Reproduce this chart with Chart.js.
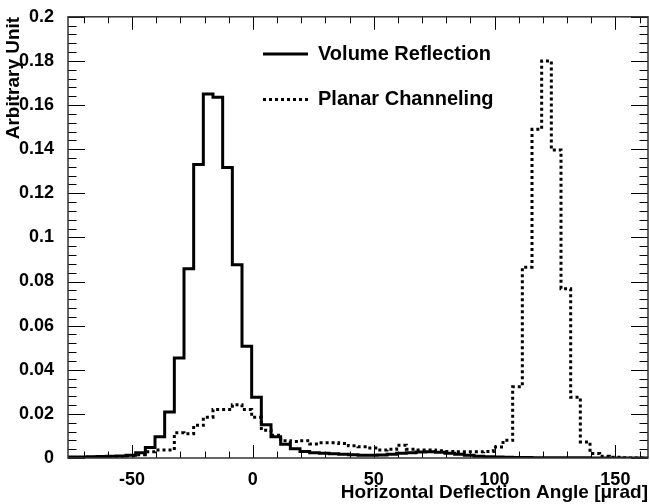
<!DOCTYPE html>
<html>
<head>
<meta charset="utf-8">
<script src="https://cdn.jsdelivr.net/npm/chart.js@4.4.1/dist/chart.umd.min.js"></script>
<style>
  html, body { margin: 0; padding: 0; background: #fff; }
  #wrap { width: 650px; height: 504px; }
</style>
</head>
<body>
<div id="wrap"><canvas id="myChart" width="650" height="504"></canvas></div>
<script>
// 60 bins, 4 urad wide, first one starts at -76.5
var binStart = -76.5
var binWidth = 4

var seriesNames = ['Volume Reflection', 'Planar Channeling']

// bin contents, left to right
var volumeReflection = [
    0.0005, 0.0005, 0.0006, 0.0007, 0.0008, 0.0009, 0.0013, 0.0024, 0.0048, 0.0096,
    0.0208, 0.0453, 0.0858, 0.1330, 0.1650, 0.1635, 0.1317, 0.0876, 0.0507, 0.0275,
    0.0151, 0.0096, 0.0062, 0.0042, 0.0029, 0.0024, 0.0021, 0.0019, 0.0017, 0.0015,
    0.0013, 0.0013, 0.0014, 0.0017, 0.0021, 0.0024, 0.0027, 0.0028, 0.0026, 0.0022,
    0.0017, 0.0012, 0.0008, 0.0006, 0.0004, 0.0003, 0.0002, 0.0002, 0.0001, 0.0001,
    0.0001, 0.0001, 0.0001, 0.0001, 0, 0, 0, 0, 0, 0
]
var planarChanneling = [
    0.0002, 0.0002, 0.0003, 0.0004, 0.0005, 0.0007, 0.0010, 0.0015, 0.0028, 0.0036,
    0.0036, 0.0114, 0.0110, 0.0148, 0.0185, 0.0220, 0.0220, 0.0241, 0.0220, 0.0185,
    0.0126, 0.0103, 0.0078, 0.0075, 0.0078, 0.0063, 0.0069, 0.0069, 0.0066, 0.0055,
    0.0051, 0.0045, 0.0036, 0.0040, 0.0058, 0.0040, 0.0036, 0.0036, 0.0033, 0.0030,
    0.0028, 0.0028, 0.0028, 0.0030, 0.0050, 0.0080, 0.0323, 0.0865, 0.1490, 0.1800,
    0.1396, 0.0767, 0.0275, 0.0073, 0.0020, 0.0008, 0.0003, 0.0001, 0, 0
]

var xTickLabels = [-50, 0, 50, 100, 150]
var yTickLabels = [0, 0.02, 0.04, 0.06, 0.08, 0.1, 0.12, 0.14, 0.16, 0.18, 0.2]

// bin contents -> points on the left bin edges, plus the closing right edge
function toSteps(values) {
    var pts = []
    for (var i = 0; i < values.length; i++) {
        pts.push({ x: binStart + i * binWidth, y: values[i] })
    }
    pts.push({ x: binStart + values.length * binWidth, y: values[values.length - 1] })
    return pts
}

var family = "'Liberation Sans', Arial, Helvetica, sans-serif"
var tickFont = { family: family, weight: 'bold', size: 18 }
var titleFont = { family: family, weight: 'bold', size: 19 }

// ROOT-like frame with inward ticks on all four sides, plus the legend
var frameTicks = {
    id: 'frameTicks',
    afterDatasetsDraw(chart) {
        var ctx = chart.ctx, a = chart.chartArea
        var sx = chart.scales.x, sy = chart.scales.y
        ctx.save()
        ctx.strokeStyle = '#000'
        ctx.lineWidth = 1
        ctx.beginPath()
        for (var v = -70; v <= 160; v += 10) {
            var px = Math.round(sx.getPixelForValue(v)) + 0.5
            var len = (v % 50 === 0) ? 13 : 6.5
            ctx.moveTo(px, a.bottom); ctx.lineTo(px, a.bottom - len)
            ctx.moveTo(px, a.top); ctx.lineTo(px, a.top + len)
        }
        for (var i = 0; i <= 50; i++) {
            var py = Math.round(sy.getPixelForValue(i * 0.004)) + 0.5
            var len2 = (i % 5 === 0) ? 17 : 8.5
            ctx.moveTo(a.left, py); ctx.lineTo(a.left + len2, py)
            ctx.moveTo(a.right, py); ctx.lineTo(a.right - len2, py)
        }
        ctx.stroke()
        ctx.strokeStyle = '#333'
        ctx.lineWidth = 1.5
        ctx.strokeRect(a.left, a.top, a.right - a.left, a.bottom - a.top)
        ctx.restore()
    },
    afterDraw(chart) {
        var ctx = chart.ctx
        var rowY = [54, 99.5]
        ctx.save()
        chart.data.datasets.forEach(function (ds, i) {
            ctx.beginPath()
            ctx.strokeStyle = ds.borderColor
            ctx.lineWidth = ds.borderWidth
            ctx.setLineDash(ds.borderDash || [])
            ctx.moveTo(263, rowY[i])
            ctx.lineTo(308, rowY[i])
            ctx.stroke()
            ctx.setLineDash([])
            ctx.fillStyle = '#000'
            ctx.font = 'bold 20px ' + family
            ctx.textBaseline = 'middle'
            ctx.textAlign = 'left'
            ctx.fillText(ds.label, 318, rowY[i])
        })
        ctx.restore()
    }
}

const ctx = document.getElementById('myChart')
const myChart = new Chart(ctx, {
    type: 'line',
    data: {
        datasets: [{
            label: seriesNames[0],
            data: toSteps(volumeReflection),
            stepped: 'before',
            borderColor: '#000',
            borderWidth: 3,
            borderJoinStyle: 'miter',
            pointRadius: 0,
            fill: false
        }, {
            label: seriesNames[1],
            data: toSteps(planarChanneling),
            stepped: 'before',
            borderColor: '#000',
            borderWidth: 3,
            borderDash: [3, 3],
            borderJoinStyle: 'miter',
            pointRadius: 0,
            fill: false
        }]
    },
    options: {
        responsive: false,
        animation: false,
        layout: { padding: { top: 12, right: 2, left: 0, bottom: 0 } },
        plugins: {
            legend: { display: false },
            tooltip: { enabled: false }
        },
        scales: {
            x: {
                type: 'linear',
                min: binStart,
                max: binStart + binWidth * volumeReflection.length,
                afterBuildTicks: function (s) { s.ticks = xTickLabels.map(function (v) { return { value: v } }) },
                afterFit: function (s) { s.height = 46 },
                grid: { display: false },
                border: { display: false },
                ticks: { font: tickFont, color: '#000', padding: 3, maxRotation: 0, autoSkip: false,
                    callback: function (v) { return String(v) } },
                title: { display: true, text: 'Horizontal Deflection Angle [μrad]', align: 'end',
                    font: titleFont, color: '#000', padding: 0 }
            },
            y: {
                min: 0,
                max: 0.2,
                afterBuildTicks: function (s) { s.ticks = yTickLabels.map(function (v) { return { value: v } }) },
                afterFit: function (s) { s.width = 68 },
                grid: { display: false },
                border: { display: false },
                ticks: { font: tickFont, color: '#000', padding: 6, autoSkip: false,
                    callback: function (v) { return String(Number(v.toFixed(3))) } },
                title: { display: true, text: 'Arbitrary Unit', align: 'end',
                    font: titleFont, color: '#000', padding: { top: 2, bottom: 0 } }
            }
        }
    },
    plugins: [frameTicks]
})
</script>
</body>
</html>
